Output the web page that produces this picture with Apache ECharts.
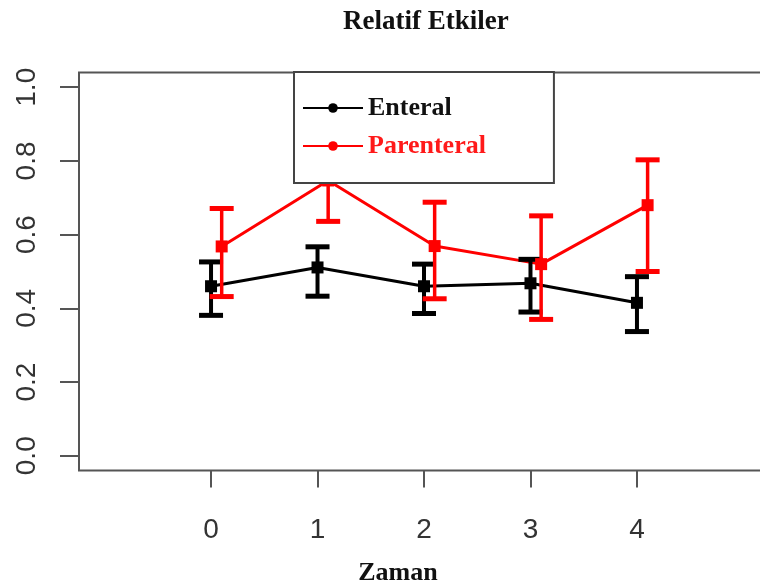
<!DOCTYPE html>
<html>
<head>
<meta charset="utf-8">
<script src="https://cdn.jsdelivr.net/npm/echarts@6/dist/echarts.min.js"></script>
<style>
html,body{margin:0;padding:0;background:#fff;}
#chart{width:760px;height:587px;}
</style>
</head>
<body>
<div id="chart"></div>
<script>
// ---- data ----
var timePoints = [0, 1, 2, 3, 4];
var xTickLabels = ['0', '1', '2', '3', '4'];
var yTickValues = [0, 0.2, 0.4, 0.6, 0.8, 1.0];
var enteralMean = [0.460, 0.511, 0.460, 0.468, 0.415];
var enteralLow  = [0.381, 0.433, 0.386, 0.390, 0.337];
var enteralHigh = [0.526, 0.567, 0.520, 0.533, 0.486];
var parenteralMean = [0.568, 0.747, 0.569, 0.520, 0.680];
var parenteralLow  = [0.432, 0.636, 0.426, 0.370, 0.500];
var parenteralHigh = [0.671, 0.860, 0.688, 0.651, 0.803];
var parenteralShift = 0.1; // parenteral drawn slightly right of each time point

var chart = echarts.init(document.getElementById('chart'), null, {renderer: 'canvas'});

function lineData(shift, mean) {
  return timePoints.map(function (t, i) { return [t + shift, mean[i]]; });
}
function barData(shift, mean, low, high) {
  return timePoints.map(function (t, i) { return [t + shift, mean[i], low[i], high[i]]; });
}
function makeErrorRender(color, whiskerW, capW, capThick, markSize) {
  return function (params, api) {
    var x = api.value(0);
    var pMean = api.coord([x, api.value(1)]);
    var pLow = api.coord([x, api.value(2)]);
    var pHigh = api.coord([x, api.value(3)]);
    var half = capW / 2;
    return {
      type: 'group',
      children: [
        {type: 'line', shape: {x1: pLow[0], y1: pLow[1], x2: pHigh[0], y2: pHigh[1]},
         style: {stroke: color, lineWidth: whiskerW}},
        {type: 'line', shape: {x1: pLow[0] - half, y1: pLow[1], x2: pLow[0] + half, y2: pLow[1]},
         style: {stroke: color, lineWidth: capThick}},
        {type: 'line', shape: {x1: pHigh[0] - half, y1: pHigh[1], x2: pHigh[0] + half, y2: pHigh[1]},
         style: {stroke: color, lineWidth: capThick}},
        {type: 'rect', shape: {x: pMean[0] - markSize / 2, y: pMean[1] - markSize / 2, width: markSize, height: markSize},
         style: {fill: color}}
      ]
    };
  };
}

var option = {
  animation: false,
  backgroundColor: '#ffffff',
  title: {
    text: 'Relatif Etkiler',
    left: 343, top: 9, padding: 0,
    textStyle: {fontFamily: 'Liberation Serif', fontWeight: 'bold', fontSize: 27, color: '#111'}
  },
  legend: {
    data: [
      {name: 'Enteral', textStyle: {color: '#111'}},
      {name: 'Parenteral', textStyle: {color: '#ff1a1a'}}
    ],
    orient: 'vertical',
    left: 294, top: 72,
    z: 20,
    padding: [23, 68, 24, 8],
    itemGap: 12,
    itemWidth: 60, itemHeight: 12,
    backgroundColor: '#ffffff',
    borderColor: '#444', borderWidth: 2, borderRadius: 0,
    selectedMode: false,
    textStyle: {fontFamily: 'Liberation Serif', fontWeight: 'bold', fontSize: 26}
  },
  grid: {
    show: true, left: 79, top: 72.5, width: 690, height: 398,
    borderColor: '#555', borderWidth: 2, backgroundColor: '#fff',
    containLabel: false,
    outerBoundsMode: 'none'
  },
  xAxis: {
    type: 'value', min: -1.24, max: 5.24,
    name: 'Zaman', nameLocation: 'middle', nameGap: 90,
    nameTextStyle: {fontFamily: 'Liberation Serif', fontWeight: 'bold', fontSize: 26, color: '#111', padding: [0, 52, 0, 0]},
    axisLine: {show: false, onZero: false},
    splitLine: {show: false},
    axisTick: {show: true, length: 17, lineStyle: {color: '#555', width: 2}, customValues: timePoints},
    axisLabel: {
      customValues: timePoints, margin: 46,
      fontFamily: 'Liberation Sans', fontSize: 28, color: '#333',
      formatter: function (v) { var i = timePoints.indexOf(v); return i >= 0 ? xTickLabels[i] : ''; }
    }
  },
  yAxis: {
    type: 'value', min: -0.04, max: 1.04,
    axisLine: {show: false, onZero: false},
    splitLine: {show: false},
    axisTick: {show: true, length: 19, lineStyle: {color: '#555', width: 2}, customValues: yTickValues},
    axisLabel: {
      customValues: yTickValues, margin: 38, rotate: 90,
      fontFamily: 'Liberation Sans', fontSize: 28, color: '#333',
      formatter: function (v) { return v.toFixed(1); }
    }
  },
  series: [
    {
      name: 'Enteral', type: 'line', data: lineData(0, enteralMean),
      symbol: 'none', color: '#000',
      lineStyle: {color: '#000', width: 3}, z: 2
    },
    {
      name: 'Parenteral', type: 'line', data: lineData(parenteralShift, parenteralMean),
      symbol: 'none', color: '#ff0000',
      lineStyle: {color: '#ff0000', width: 3}, z: 2
    },
    {
      name: 'Enteral hata', type: 'custom', z: 3,
      renderItem: makeErrorRender('#000', 4, 24, 5, 12),
      data: barData(0, enteralMean, enteralLow, enteralHigh),
      encode: {x: 0, y: [1, 2, 3]}
    },
    {
      name: 'Parenteral hata', type: 'custom', z: 4,
      renderItem: makeErrorRender('#ff0000', 3.5, 24, 5, 12),
      data: barData(parenteralShift, parenteralMean, parenteralLow, parenteralHigh),
      encode: {x: 0, y: [1, 2, 3]}
    }
  ]
};
chart.setOption(option);
</script>
</body>
</html>
